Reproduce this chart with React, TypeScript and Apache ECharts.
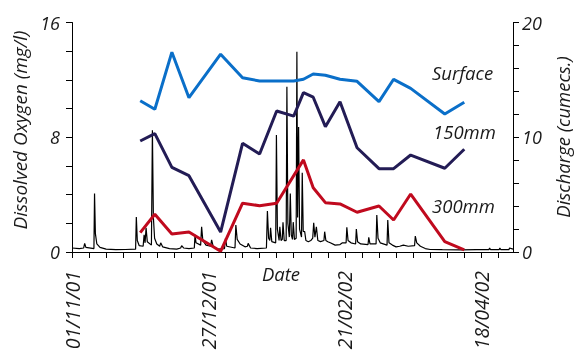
import React, { useEffect, useRef } from "react";
import * as echarts from "echarts";

// Sampling dates of dissolved oxygen (days counted from 01/11/2001)
const sampleDates = [
  "2001-11-29", "2001-12-05", "2001-12-12", "2001-12-19", "2002-01-01",
  "2002-01-10", "2002-01-17", "2002-01-24", "2002-01-31", "2002-02-04",
  "2002-02-08", "2002-02-13", "2002-02-19", "2002-02-26", "2002-03-07",
  "2002-03-13", "2002-03-20", "2002-04-03", "2002-04-11",
];
const surface = [10.55, 9.95, 13.93, 10.76, 13.79, 12.15, 11.92, 11.92, 11.92, 12.04, 12.41, 12.32, 12.04, 11.9, 10.48, 12.04, 11.41, 9.62, 10.44];
const mm150 = [7.74, 8.25, 5.9, 5.32, 1.39, 7.58, 6.83, 9.83, 9.47, 11.11, 10.79, 8.74, 10.48, 7.27, 5.81, 5.81, 6.76, 5.84, 7.16];
const mm300 = [1.35, 2.63, 1.26, 1.39, 0.05, 3.4, 3.23, 3.4, null, 6.42, 4.48, 3.44, 3.35, 2.77, 3.21, 2.23, 4.04, 0.72, 0.14];

// Discharge record (day since 01/11/2001, cumecs)
const dischargeDay = [
  0, 3, 4.8, 5.2, 5.7, 9.0, 9.25, 9.6, 10.2, 11.5, 14, 18, 22, 26.1, 26.4, 26.8, 27.6, 29.2, 29.6, 30.0,
  30.4, 30.9, 32.6, 33.0, 33.4, 33.9, 34.8, 36.0, 36.4, 37.2, 40, 43, 44.6, 45.0, 45.8, 48, 50.2, 50.5, 50.9, 52.8,
  53.2, 53.7, 55, 56.9, 57.3, 58, 60, 62.6, 63.0, 63.5, 66.9, 67.25, 67.8, 69, 71, 72.0, 72.3, 73.3, 76, 79.8,
  80.2, 80.7, 81.2, 81.5, 82, 83.6, 83.9, 84.3, 85.0, 85.3, 85.8, 86.3, 86.6, 87.1, 87.9, 88.2, 88.6, 89.2, 89.6, 90.0,
  90.5, 90.8, 91.3, 92.0, 92.3, 92.6, 93.0, 93.4, 94.2, 94.5, 94.9, 95.5, 96.0, 97, 98, 98.8, 99.2, 99.7, 100.3, 100.9,
  102, 103.4, 103.7, 104.2, 105, 106, 108, 110, 111, 112.5, 112.8, 113.3, 114.5, 116.4, 116.7, 117.2, 118.5, 121.5, 121.8, 122.3,
  124.8, 125.1, 125.6, 126.5, 129.3, 129.6, 130.1, 131.5, 133, 134.5, 136, 138, 140.6, 140.9, 141.5, 143, 145, 147, 152, 160,
  166, 171.1, 171.4, 171.8, 175.3, 175.6, 176, 179.3, 179.6, 181,
];
const dischargeCumecs = [
  0.35, 0.3, 0.35, 0.75, 0.4, 0.3, 5.1, 1.6, 0.7, 0.4, 0.25, 0.2, 0.22, 0.25, 3.05, 1.0, 0.55, 0.5, 1.5, 0.8,
  2.1, 0.9, 0.6, 10.6, 3.0, 1.2, 0.7, 0.5, 0.8, 0.45, 0.3, 0.25, 0.35, 0.55, 0.35, 0.3, 0.35, 1.5, 0.8, 0.6,
  2.2, 1.0, 0.6, 0.5, 1.05, 0.45, 0.25, 0.3, 1.2, 0.5, 0.35, 2.35, 1.1, 0.7, 0.45, 0.5, 0.75, 0.35, 0.3, 0.35,
  3.57, 1.2, 1.0, 2.1, 0.9, 0.8, 10.2, 2.0, 1.0, 2.2, 1.0, 1.1, 2.6, 1.0, 1.0, 14.4, 2.5, 1.3, 5.1, 1.5,
  1.1, 2.6, 1.1, 1.2, 17.45, 3.0, 10.9, 2.0, 1.3, 6.9, 1.8, 1.77, 1.0, 0.9, 1.0, 1.2, 2.55, 1.3, 2.2, 1.0,
  0.9, 1.0, 1.77, 1.0, 0.9, 0.8, 0.6, 0.65, 0.8, 0.8, 2.15, 1.0, 0.8, 0.7, 2.0, 0.9, 0.7, 0.65, 1.28, 0.7,
  0.7, 3.22, 1.2, 0.8, 0.6, 2.79, 0.8, 0.6, 0.45, 0.5, 0.6, 0.5, 0.55, 1.39, 0.8, 0.5, 0.3, 0.22, 0.2, 0.18,
  0.2, 0.2, 0.35, 0.2, 0.2, 0.35, 0.2, 0.2, 0.35, 0.25,
];

const xTickLabels = ["01/11/01", "27/12/01", "21/02/02", "18/04/02"];
const xLabelStep = 56;
const leftLabels = [0, 8, 16];
const rightLabels = [0, 10, 20];

const ORIGIN = Date.UTC(2001, 10, 1);
function dayOf(s: string) {
  const [y, m, d] = s.split("-").map(Number);
  return (Date.UTC(y, m - 1, d) - ORIGIN) / 86400000;
}

const FONT = "Open Sans";
const TXT = "#1a1a1a";

export default function App() {
  const ref = useRef<HTMLDivElement>(null);
  useEffect(() => {
    if (!ref.current) return;
    const chart = echarts.init(ref.current, null, { renderer: "svg" });
    const days = sampleDates.map(dayOf);
    const pairs = (vals: (number | null)[]) => days.map((d, i) => [d, vals[i]]);
    const textStyle = { fontFamily: FONT, fontStyle: "italic", fontSize: 18, color: TXT };
    const axisCommon = {
      axisLine: { show: true, lineStyle: { color: "#000", width: 1 } },
      axisTick: { show: true, length: 6, lineStyle: { color: "#000" } },
      splitLine: { show: false },
    };
    chart.setOption({
      animation: false,
      grid: { left: 72, top: 22.5, width: 441, height: 229.5 },
      xAxis: {
        type: "value",
        min: 0,
        max: 181,
        interval: 7,
        ...axisCommon,
        axisLabel: {
          rotate: 90,
          margin: 19,
          interval: 0,
          showMaxLabel: false,
          ...textStyle,
          fontSize: 19.5,
          formatter: (v: number) => {
            const i = v / xLabelStep;
            return Number.isInteger(i) && i < xTickLabels.length ? xTickLabels[i] : "";
          },
        },
      },
      yAxis: [
        {
          type: "value",
          min: 0,
          max: 16,
          interval: 2,
          ...axisCommon,
          axisLabel: {
            margin: 12,
            ...textStyle,
            formatter: (v: number) => (leftLabels.includes(v) ? String(v) : ""),
          },
        },
        {
          type: "value",
          min: 0,
          max: 20,
          interval: 2,
          position: "right",
          ...axisCommon,
          axisLabel: {
            margin: 9,
            ...textStyle,
            formatter: (v: number) => (rightLabels.includes(v) ? String(v) : ""),
          },
        },
      ],
      series: [
        {
          name: "Discharge",
          type: "line",
          yAxisIndex: 1,
          data: dischargeDay.map((d, i) => [d, dischargeCumecs[i]]),
          showSymbol: false,
          lineStyle: { color: "#000", width: 1.2 },
          z: 1,
        },
        {
          name: "Surface",
          type: "line",
          data: pairs(surface),
          showSymbol: false,
          connectNulls: true,
          lineStyle: { color: "#0A6FC9", width: 3 },
          z: 3,
        },
        {
          name: "150mm",
          type: "line",
          data: pairs(mm150),
          showSymbol: false,
          connectNulls: true,
          lineStyle: { color: "#231C55", width: 3 },
          z: 3,
        },
        {
          name: "300mm",
          type: "line",
          data: pairs(mm300),
          showSymbol: false,
          connectNulls: true,
          lineStyle: { color: "#C00A1E", width: 3 },
          z: 3,
        },
      ],
      graphic: [
        { type: "text", x: 20, y: 130, rotation: Math.PI / 2, style: { text: "Dissolved Oxygen (mg/l)", align: "center", verticalAlign: "middle", font: `italic 19px "${FONT}"`, fill: TXT } },
        { type: "text", x: 562, y: 137, rotation: Math.PI / 2, style: { text: "Discharge (cumecs.)", align: "center", verticalAlign: "middle", font: `italic 18.5px "${FONT}"`, fill: TXT } },
        { type: "text", x: 281, y: 273, style: { text: "Date", align: "center", verticalAlign: "middle", font: `italic 18.5px "${FONT}"`, fill: TXT } },
        { type: "text", x: 432, y: 72, style: { text: "Surface", align: "left", verticalAlign: "middle", font: `italic 18.5px "${FONT}"`, fill: TXT } },
        { type: "text", x: 433, y: 131.5, style: { text: "150mm", align: "left", verticalAlign: "middle", font: `italic 18.5px "${FONT}"`, fill: TXT } },
        { type: "text", x: 432, y: 205, style: { text: "300mm", align: "left", verticalAlign: "middle", font: `italic 18.5px "${FONT}"`, fill: TXT } },
      ],
    });
    return () => chart.dispose();
  }, []);
  return <div ref={ref} style={{ position: "fixed", left: 0, top: 0, width: 576, height: 356 }} />;
}
